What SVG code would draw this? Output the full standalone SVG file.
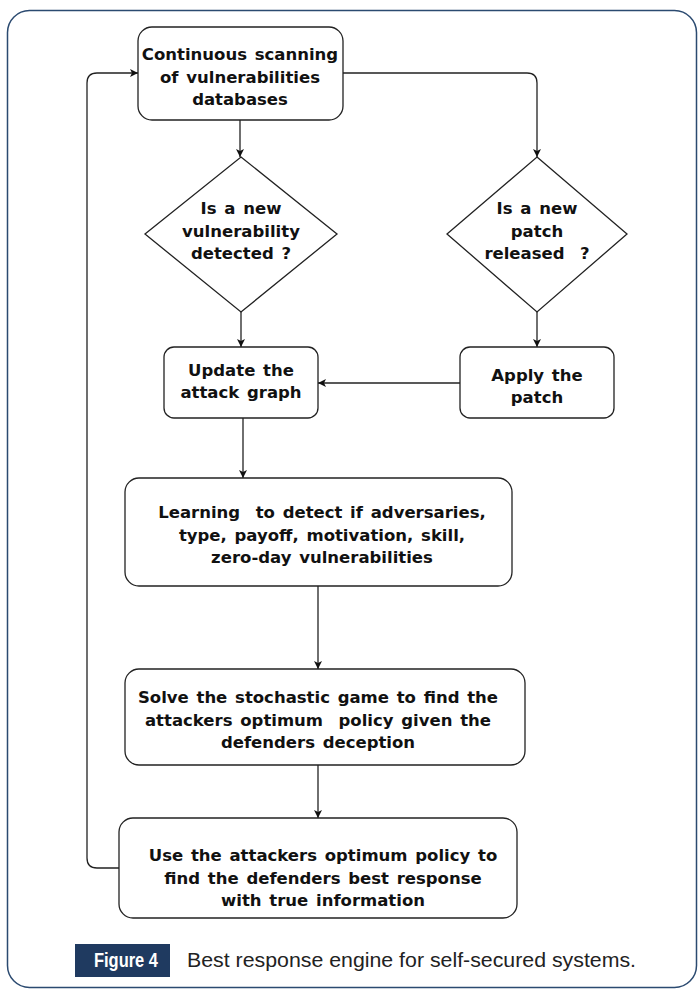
<svg xmlns="http://www.w3.org/2000/svg" width="700" height="989" viewBox="0 0 700 989">
<style>
.box{fill:#fff;stroke:#222;stroke-width:1.3}
.t{font-family:"DejaVu Sans",sans-serif;font-weight:bold;font-size:16.5px;word-spacing:2px;fill:#111;text-anchor:middle;white-space:pre}
.c{fill:none;stroke:#222;stroke-width:1.3}
.cap{font-family:"Liberation Sans",Arial,sans-serif;font-size:20px}
</style>
<defs>
<marker id="ah" markerWidth="10" markerHeight="10" refX="9" refY="5" orient="auto" markerUnits="userSpaceOnUse">
<path d="M1,1 L9,5 L1,9 L3,5 Z" fill="#111"/>
</marker>
</defs>
<rect x="7.5" y="10.5" width="689" height="977" rx="22" fill="#fff" stroke="#2b4a70" stroke-width="1.5"/>
<g id="connectors">
<path class="c" d="M240,120 L240,157" marker-end="url(#ah)"/>
<path class="c" d="M343,73 L527,73 Q537,73 537,83 L537,157" marker-end="url(#ah)"/>
<path class="c" d="M241,312 L241,347" marker-end="url(#ah)"/>
<path class="c" d="M537,312 L537,347" marker-end="url(#ah)"/>
<path class="c" d="M460,383 L318,383" marker-end="url(#ah)"/>
<path class="c" d="M243,418 L243,478" marker-end="url(#ah)"/>
<path class="c" d="M318,586 L318,669" marker-end="url(#ah)"/>
<path class="c" d="M318,765 L318,818" marker-end="url(#ah)"/>
<path class="c" d="M119,868 L97,868 Q87,868 87,858 L87,83 Q87,73 97,73 L138,73" marker-end="url(#ah)"/>
</g>
<g id="scan">
<rect class="box" x="138" y="27" width="205" height="93" rx="14"/>
<text class="t" x="240" y="60">Continuous scanning</text>
<text class="t" x="240" y="83">of vulnerabilities</text>
<text class="t" x="240" y="105">databases</text>
</g>
<g id="vuln-detected">
<polygon class="box" points="241,157 337,234 241,312 145,234"/>
<text class="t" x="241" y="214">Is a new</text>
<text class="t" x="241" y="237">vulnerability</text>
<text class="t" x="241" y="259">detected ?</text>
</g>
<g id="patch-released">
<polygon class="box" points="537,157 627,234 537,312 447,234"/>
<text class="t" x="537" y="214">Is a new</text>
<text class="t" x="537" y="237">patch</text>
<text class="t" x="537" y="259">released  ?</text>
</g>
<g id="update">
<rect class="box" x="164" y="347" width="154" height="71" rx="10"/>
<text class="t" x="241" y="376">Update the</text>
<text class="t" x="241" y="398">attack graph</text>
</g>
<g id="apply">
<rect class="box" x="460" y="347" width="154" height="71" rx="10"/>
<text class="t" x="537" y="381">Apply the</text>
<text class="t" x="537" y="403">patch</text>
</g>
<g id="learning">
<rect class="box" x="125" y="478" width="387" height="108" rx="14"/>
<text class="t" x="322" y="518">Learning  to detect if adversaries,</text>
<text class="t" x="322" y="541">type, payoff, motivation, skill,</text>
<text class="t" x="322" y="563">zero-day vulnerabilities</text>
</g>
<g id="solve">
<rect class="box" x="125" y="669" width="400" height="96" rx="14"/>
<text class="t" x="318" y="703">Solve the stochastic game to find the</text>
<text class="t" x="318" y="726">attackers optimum  policy given the</text>
<text class="t" x="318" y="748">defenders deception</text>
</g>
<g id="use">
<rect class="box" x="119" y="818" width="398" height="100" rx="14"/>
<text class="t" x="323" y="861">Use the attackers optimum policy to</text>
<text class="t" x="323" y="884">find the defenders best response</text>
<text class="t" x="323" y="906">with true information</text>
</g>
<g id="caption">
<rect x="75" y="944" width="95" height="33" fill="#1f3a60"/>
<text class="cap" x="94" y="967" fill="#fff" font-weight="bold" textLength="64" lengthAdjust="spacingAndGlyphs">Figure 4</text>
<text class="cap" x="187" y="967" fill="#222" textLength="449" lengthAdjust="spacingAndGlyphs">Best response engine for self-secured systems.</text>
</g>
</svg>
